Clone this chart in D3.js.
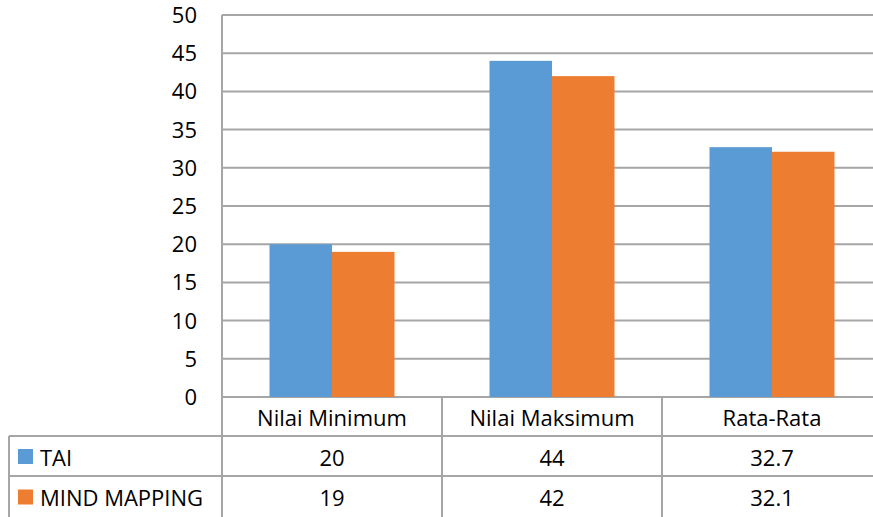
<!DOCTYPE html>
<html>
<head>
<meta charset="utf-8">
<script src="https://cdnjs.cloudflare.com/ajax/libs/d3/7.8.5/d3.min.js"></script>
<style>
  body { margin: 0; background: #fff; }
  svg text { font-family: "Open Sans", Lato, sans-serif; fill: #000; }
</style>
</head>
<body>
<div id="chart"></div>
<script>
// Data
const categories = ["Nilai Minimum", "Nilai Maksimum", "Rata-Rata"];
const seriesNames = ["TAI", "MIND MAPPING"];
const taiValues = [20, 44, 32.7];
const mindMappingValues = [19, 42, 32.1];
const yTicks = [0, 5, 10, 15, 20, 25, 30, 35, 40, 45, 50];

function drawChart() {
    const width = 873;
    const height = 517;
    const left = 222, right = 882, top = 15, bottom = 397;
    const gridColor = "#a6a6a6";
    const colors = ["#5b9bd5", "#ed7d31"];
    const seriesValues = [taiValues, mindMappingValues];
    const fontSize = "22px";

    const svg = d3.select("#chart")
        .append("svg")
        .attr("width", width)
        .attr("height", height);

    // Scales
    const x = d3.scaleBand()
        .domain(categories)
        .range([left, right]);

    const x1 = d3.scaleBand()
        .domain(seriesNames)
        .range([47.5, x.bandwidth() - 47.5]);

    const y = d3.scaleLinear()
        .domain([0, 50])
        .range([bottom, top]);

    // Horizontal grid lines
    svg.append("g")
        .selectAll("line")
        .data(yTicks)
        .enter()
        .append("line")
        .attr("x1", left)
        .attr("x2", right)
        .attr("y1", d => y(d))
        .attr("y2", d => y(d))
        .attr("stroke", gridColor)
        .attr("stroke-width", 2);

    // Y tick labels
    svg.append("g")
        .selectAll("text")
        .data(yTicks)
        .enter()
        .append("text")
        .attr("x", 197)
        .attr("y", d => y(d))
        .attr("dy", "0.36em")
        .attr("text-anchor", "end")
        .style("font-size", fontSize)
        .text(d => d);

    // Bars
    seriesNames.forEach((name, si) => {
        svg.append("g")
            .selectAll("rect")
            .data(categories)
            .enter()
            .append("rect")
            .attr("x", d => x(d) + x1(name))
            .attr("y", (d, i) => y(seriesValues[si][i]))
            .attr("width", x1.bandwidth())
            .attr("height", (d, i) => y(0) - y(seriesValues[si][i]))
            .attr("fill", colors[si]);
    });

    // Data table
    const rowTops = [bottom, 436, 476, 517];
    const tableLeft = 9;
    const table = svg.append("g");

    // y-axis line extended through category row
    table.append("line")
        .attr("x1", left).attr("x2", left)
        .attr("y1", top).attr("y2", height)
        .attr("stroke", gridColor).attr("stroke-width", 2);

    // vertical separators between categories
    table.selectAll(".sep")
        .data(categories.slice(1).concat(["end"]))
        .enter()
        .append("line")
        .attr("class", "sep")
        .attr("x1", (d, i) => left + (i + 1) * x.bandwidth())
        .attr("x2", (d, i) => left + (i + 1) * x.bandwidth())
        .attr("y1", bottom)
        .attr("y2", height)
        .attr("stroke", gridColor).attr("stroke-width", 2);

    // table left border
    table.append("line")
        .attr("x1", tableLeft).attr("x2", tableLeft)
        .attr("y1", rowTops[1]).attr("y2", height)
        .attr("stroke", gridColor).attr("stroke-width", 2);

    // row lines
    table.selectAll(".row-line")
        .data([rowTops[1], rowTops[2]])
        .enter()
        .append("line")
        .attr("class", "row-line")
        .attr("x1", tableLeft)
        .attr("x2", right)
        .attr("y1", d => d)
        .attr("y2", d => d)
        .attr("stroke", gridColor).attr("stroke-width", 2);

    // category labels
    table.selectAll(".cat")
        .data(categories)
        .enter()
        .append("text")
        .attr("class", "cat")
        .attr("x", d => x(d) + x.bandwidth() / 2)
        .attr("y", (bottom + rowTops[1]) / 2 + 2)
        .attr("dy", "0.36em")
        .attr("text-anchor", "middle")
        .style("font-size", fontSize)
        .text(d => d);

    // series rows
    seriesNames.forEach((name, si) => {
        const cy = (rowTops[si + 1] + rowTops[si + 2]) / 2 + 2;
        table.append("rect")
            .attr("x", 18)
            .attr("y", cy - 9)
            .attr("width", 15)
            .attr("height", 15)
            .attr("fill", colors[si]);
        table.append("text")
            .attr("x", 40)
            .attr("y", cy)
            .attr("dy", "0.36em")
            .style("font-size", fontSize)
            .text(name);
        table.selectAll(".val" + si)
            .data(categories)
            .enter()
            .append("text")
            .attr("x", d => x(d) + x.bandwidth() / 2)
            .attr("y", cy)
            .attr("dy", "0.36em")
            .attr("text-anchor", "middle")
            .style("font-size", fontSize)
            .text((d, i) => seriesValues[si][i]);
    });
}

drawChart();
</script>
</body>
</html>
